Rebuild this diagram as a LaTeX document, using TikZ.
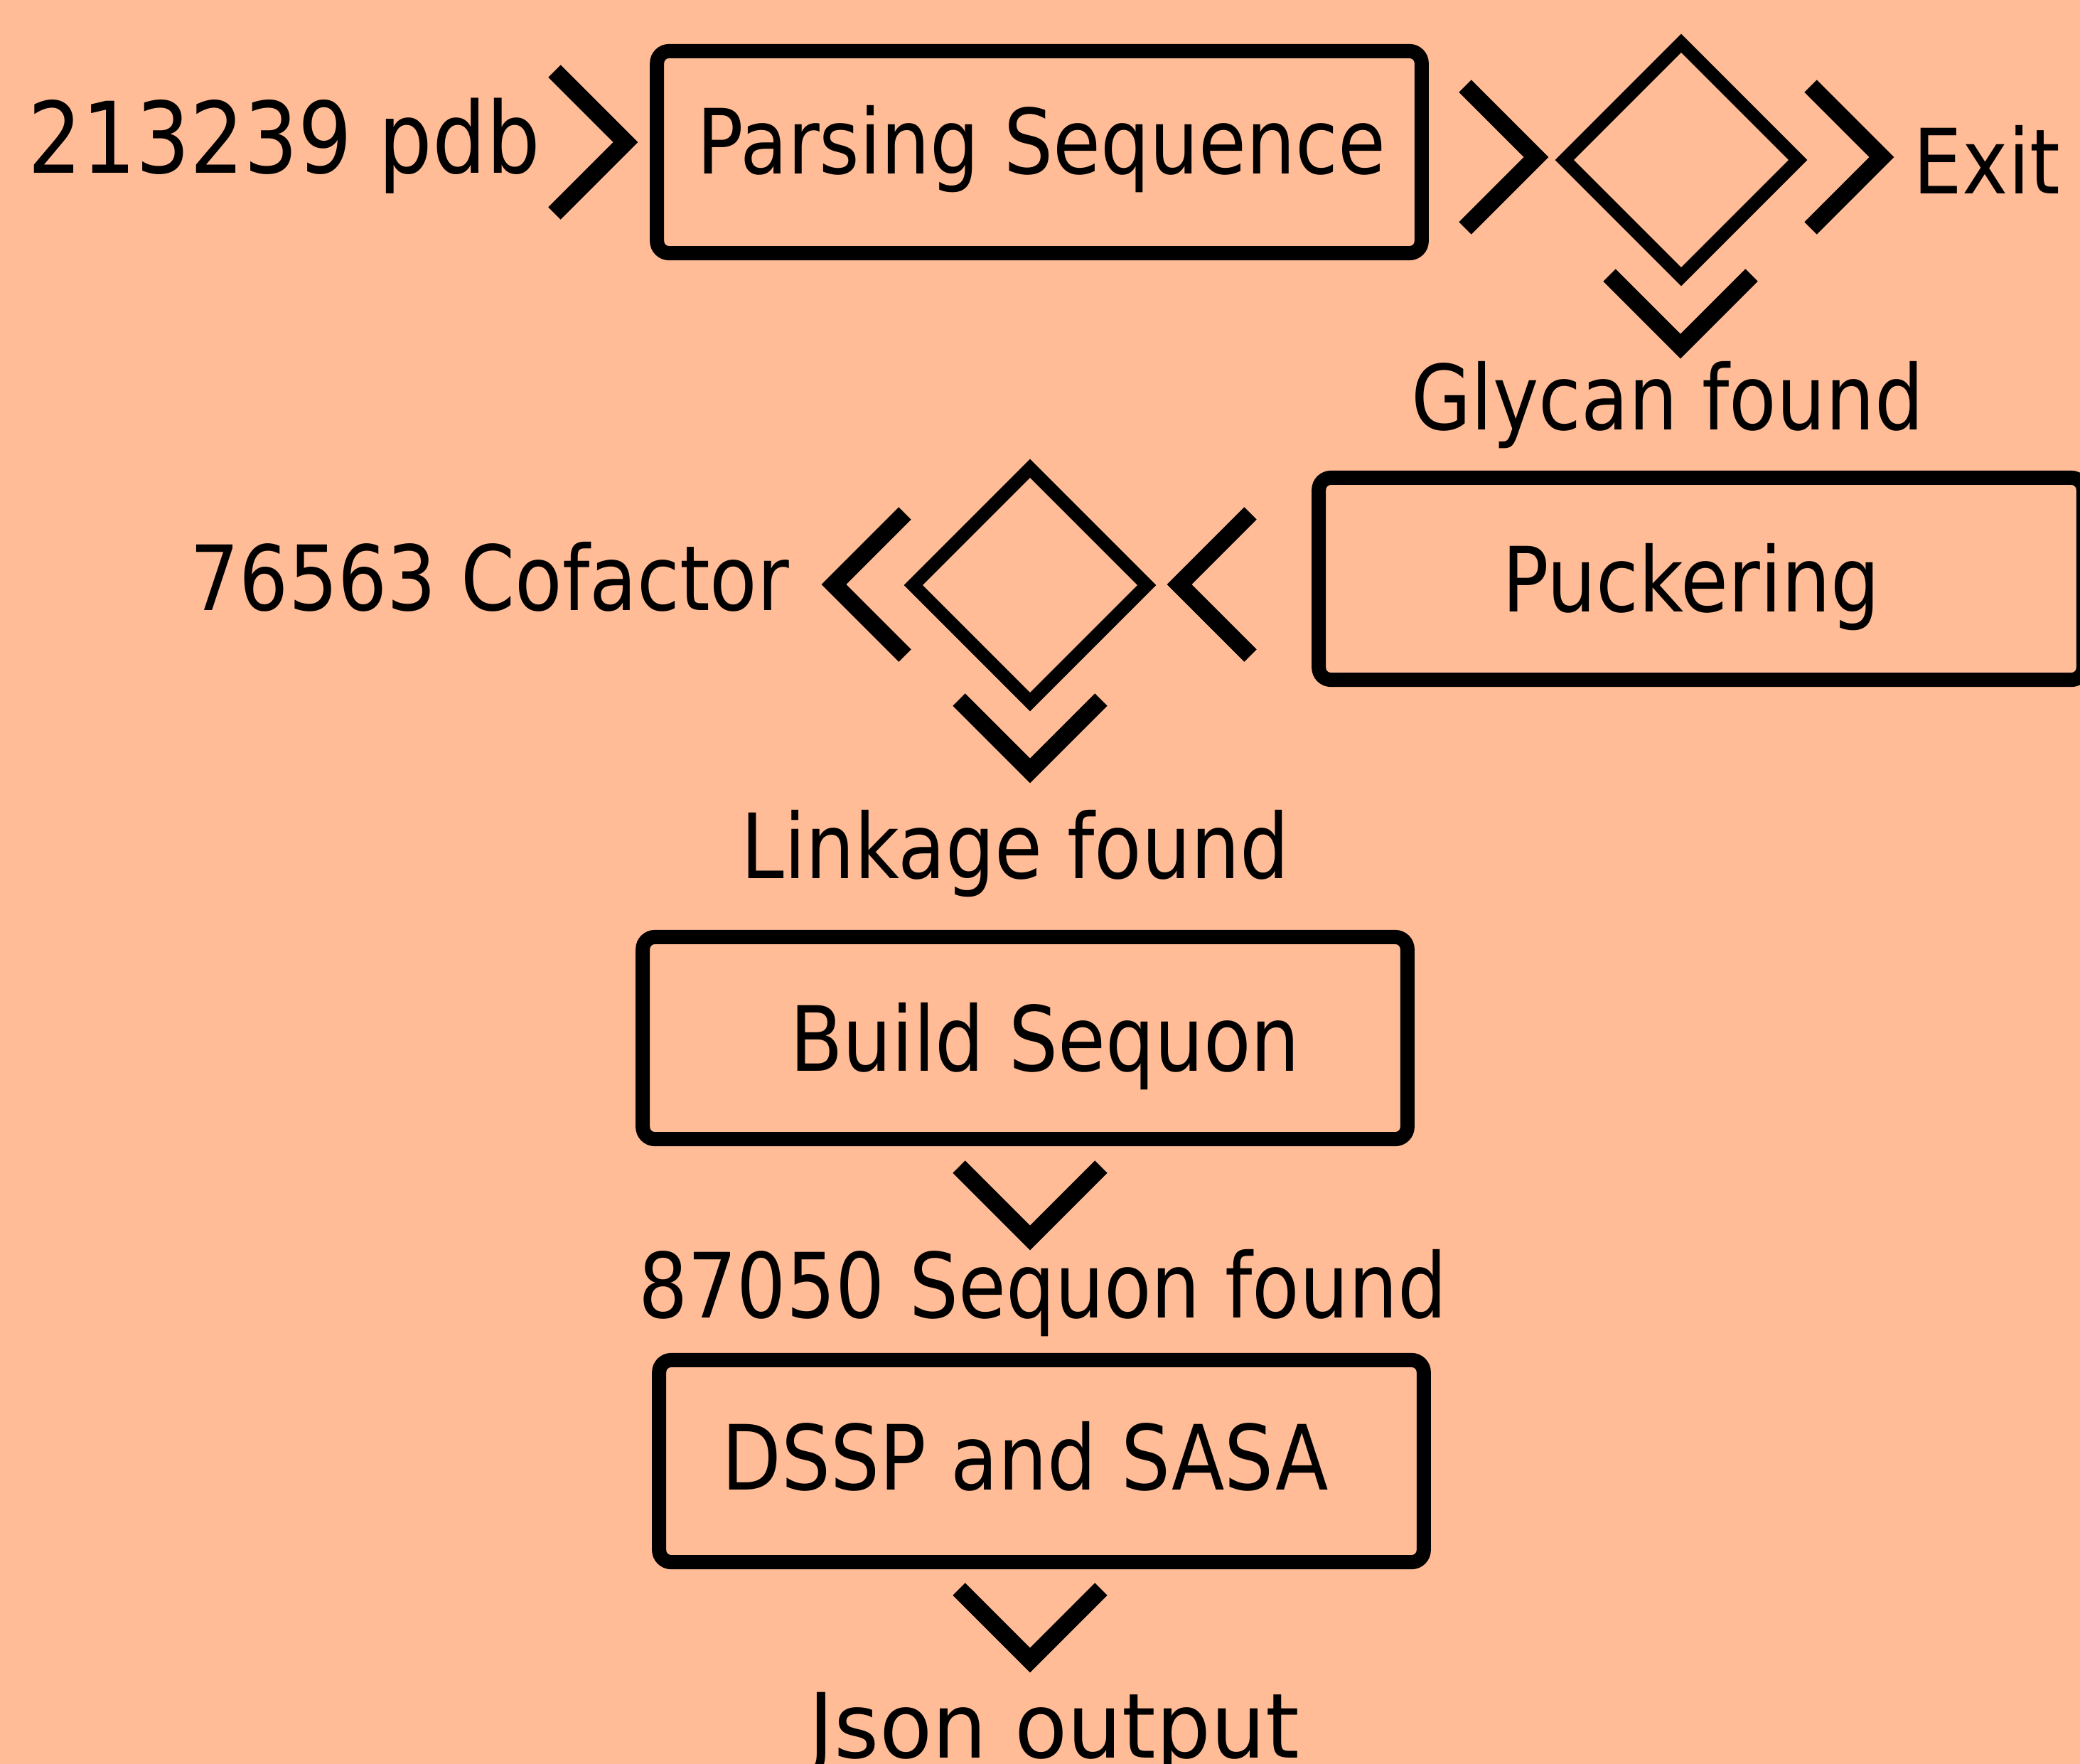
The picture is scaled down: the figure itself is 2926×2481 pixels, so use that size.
\documentclass[tikz,border=0pt]{standalone}
\usepackage{fontspec}
\setmainfont{DejaVu Sans}[FakeStretch=0.86]
\newfontfamily\wideflow{DejaVu Sans}[FakeStretch=0.96]
\usepackage{tikz}
\usetikzlibrary{shapes.geometric}
\definecolor{peach}{RGB}{255,188,150}

\begin{document}
\begin{tikzpicture}[x=0.01cm, y=-0.01cm]
\tikzset{box/.style = {draw, line width=5.7pt, rounded corners=0.17cm, inner sep=0pt, minimum width=10.75cm, minimum height=2.84cm}}
\tikzset{decision/.style = {draw, diamond, line width=5.3pt, inner sep=0pt, minimum size=3.36cm}}
\tikzset{chev/.style = {line width=7pt, line join=miter}}
\tikzset{lbl/.style = {anchor=base, inner sep=0pt, font=\fontsize{36}{40}\selectfont}}
\tikzset{chevR/.pic = {\draw[chev] (-100,-100) -- (0,0) -- (-100,100);}}
\tikzset{chevL/.pic = {\draw[chev] (100,-100) -- (0,0) -- (100,100);}}
\tikzset{chevD/.pic = {\draw[chev] (-100,-100) -- (0,0) -- (100,-100);}}
% background
\path[use as bounding box, fill=peach] (0,0) rectangle (2926,2481);
\clip (0,0) rectangle (2926,2481);
% boxes and decisions
\node[box] (parse) at (1462,214) {};
\node[decision] (glydec) at (2365,225) {};
\node[box] (pucker) at (2393,814) {};
\node[decision] (linkdec) at (1449,823) {};
\node[box] (build) at (1442,1460) {};
\node[box] (dssp) at (1465,2055) {};
% texts
\node[lbl, font=\fontsize{39.5}{42}\selectfont] (pdb) at (400,243) {213239 pdb};
\node[lbl] (parsetxt) at (1465,244) {Parsing Sequence};
\node[lbl] (exit) at (2795,272) {Exit};
\node[lbl] (glycan) at (2346,604) {Glycan found};
\node[lbl] (puckertxt) at (2379,860) {Puckering};
\node[lbl] (cofactor) at (689,858) {76563 Cofactor};
\node[lbl] (linkage) at (1428,1235) {Linkage found};
\node[lbl] (buildtxt) at (1470,1506) {Build Sequon};
\node[lbl] (sequon) at (1467,1853) {87050 Sequon found};
\node[lbl] (dssptxt) at (1442,2095) {DSSP and SASA};
\node[lbl, font=\fontsize{36}{40}\wideflow] (json) at (1483,2472) {Json output};
% chevrons
\pic at (880,200) {chevR};
\pic at (2161,221) {chevR};
\pic at (2647,221) {chevR};
\pic at (2364,487) {chevD};
\pic at (1659,822) {chevL};
\pic at (1173,822) {chevL};
\pic at (1449,1084) {chevD};
\pic at (1449,1741) {chevD};
\pic at (1449,2335) {chevD};
\end{tikzpicture}
\end{document}
